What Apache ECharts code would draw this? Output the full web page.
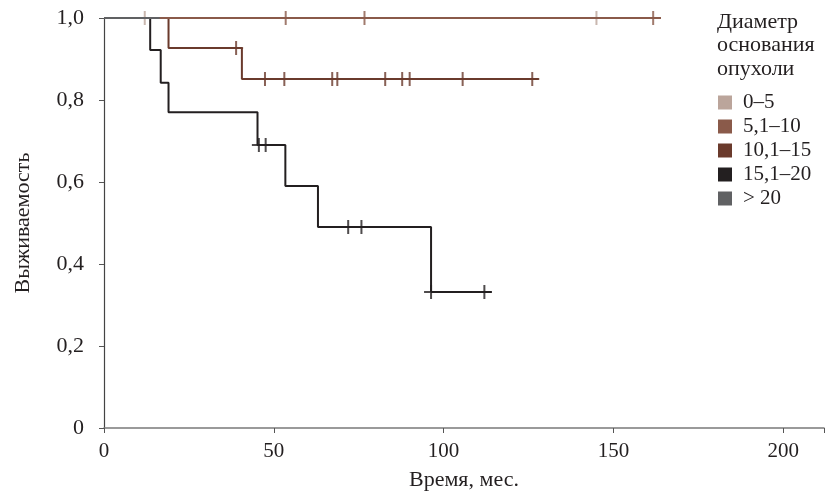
<!DOCTYPE html>
<html lang="ru">
<head>
    <meta charset="UTF-8">
    <title>Выживаемость</title>
    <script src="https://cdn.jsdelivr.net/npm/echarts@6/dist/echarts.min.js"></script>
    <style type="text/css">
        html, body {margin:0;padding:0;background:#fff;}
        #main {width:827px;height:496px;}
    </style>
</head>
<body>
<div id="main"></div>
<script type="text/javascript">
    // группы и их цвета
    var groups = ['0–5', '5,1–10', '10,1–15', '15,1–20', '> 20'];
    var colors = ['#bba59b', '#8a5a4a', '#6a3a2c', '#231f20', '#606163'];

    // ступенчатые кривые: время (мес.) и выживаемость
    var t05 = [0, 145];          var s05 = [1, 1];
    var t510 = [0, 164];         var s510 = [1, 1];
    var t1015 = [0, 19, 40.6, 128];
    var s1015 = [1, 0.927, 0.851, 0.851];
    var t1520 = [0, 13.6, 16.7, 19, 45.2, 53.4, 63, 96.3, 114.2];
    var s1520 = [1, 0.922, 0.842, 0.770, 0.690, 0.590, 0.490, 0.332, 0.332];
    var t20 = [0, 16.4];         var s20 = [1, 1];

    // цензурированные наблюдения
    var c05 = [12, 145];
    var c510 = [53.5, 76.7, 161.7];
    var c1015 = [38.9, 47.4, 53.1, 67.2, 68.7, 82.8, 87.8, 90, 105.6, 126.1];
    var c1520 = [45.6, 47.6, 71.9, 75.8, 96.3, 112];
    var c20 = [];

    var xTicks = [0, 50, 100, 150, 200];
    var yTicks = [0, 0.2, 0.4, 0.6, 0.8, 1.0];

    var curves = [
        {t: t05, s: s05, c: c05},
        {t: t510, s: s510, c: c510},
        {t: t1015, s: s1015, c: c1015},
        {t: t1520, s: s1520, c: c1520},
        {t: t20, s: s20, c: c20}
    ];

    // значение кривой в момент x
    function survAt(cv, x) {
        var v = cv.s[0];
        for (var i = 0; i < cv.t.length; i++) {
            if (cv.t[i] <= x) v = cv.s[i];
        }
        return v;
    }

    var font = 'Liberation Serif';
    var plus = 'path://M0,6h14v2h-14z M6,0h2v14h-2z';

    var lineOrder = [0, 2, 3, 1, 4];
    var markOrder = [2, 3, 1, 4, 0];
    var series = [];
    lineOrder.forEach(function (g) {
        var cv = curves[g];
        series.push({
            name: groups[g],
            type: 'line',
            step: 'end',
            symbol: 'none',
            silent: true,
            lineStyle: {color: colors[g], width: 2},
            itemStyle: {color: colors[g]},
            data: cv.t.map(function (x, i) { return [x, cv.s[i]]; })
        });
    });
    markOrder.forEach(function (g) {
        var cv = curves[g];
        series.push({
            name: groups[g],
            type: 'scatter',
            symbol: plus,
            symbolSize: [14, 14],
            silent: true,
            itemStyle: {color: colors[g]},
            data: cv.c.map(function (x) { return [x, survAt(cv, x)]; })
        });
    });

    var myChart = echarts.init(document.getElementById('main'));
    var option = {
        animation: false,
        backgroundColor: '#fff',
        grid: {left: 104, right: 1, top: 18, bottom: 66},
        title: {
            text: 'Диаметр\nоснования\nопухоли',
            left: 717,
            top: 10,
            padding: 0,
            textStyle: {fontFamily: font, fontSize: 22, fontWeight: 'normal', color: '#231f20', lineHeight: 23.5}
        },
        legend: {
            orient: 'vertical',
            left: 718,
            top: 92,
            padding: 0,
            itemWidth: 14,
            itemHeight: 14,
            itemGap: 3,
            selectedMode: false,
            data: groups.map(function (g) { return {name: g, icon: 'rect'}; }),
            textStyle: {fontFamily: font, fontSize: 21, color: '#231f20', lineHeight: 21, padding: [0, 0, 0, 6]}
        },
        xAxis: {
            type: 'value',
            min: xTicks[0],
            max: 212,
            interval: 50,
            name: 'Время, мес.',
            nameLocation: 'middle',
            nameGap: 41,
            nameTextStyle: {fontFamily: font, fontSize: 22, color: '#231f20'},
            splitLine: {show: false},
            axisLine: {lineStyle: {color: '#7a7a7a', width: 1.5}},
            axisTick: {length: 5, lineStyle: {color: '#555'}},
            axisLabel: {
                margin: 13,
                fontFamily: font, fontSize: 21, color: '#231f20',
                formatter: function (v) { return xTicks.indexOf(v) >= 0 ? String(v) : ''; }
            }
        },
        yAxis: {
            type: 'value',
            min: yTicks[0],
            max: 1,
            interval: 0.2,
            name: 'Выживаемость',
            nameLocation: 'middle',
            nameGap: 70,
            nameTextStyle: {fontFamily: font, fontSize: 22, color: '#231f20'},
            splitLine: {show: false},
            axisLine: {show: true, lineStyle: {color: '#444', width: 1.2}},
            axisTick: {show: true, length: 5, lineStyle: {color: '#555'}},
            axisLabel: {
                margin: 20,
                fontFamily: font, fontSize: 22, color: '#231f20',
                formatter: function (v) { return v === 0 ? '0' : v.toFixed(1).replace('.', ','); }
            }
        },
        series: series
    };
    myChart.setOption(option);
</script>
</body>
</html>
